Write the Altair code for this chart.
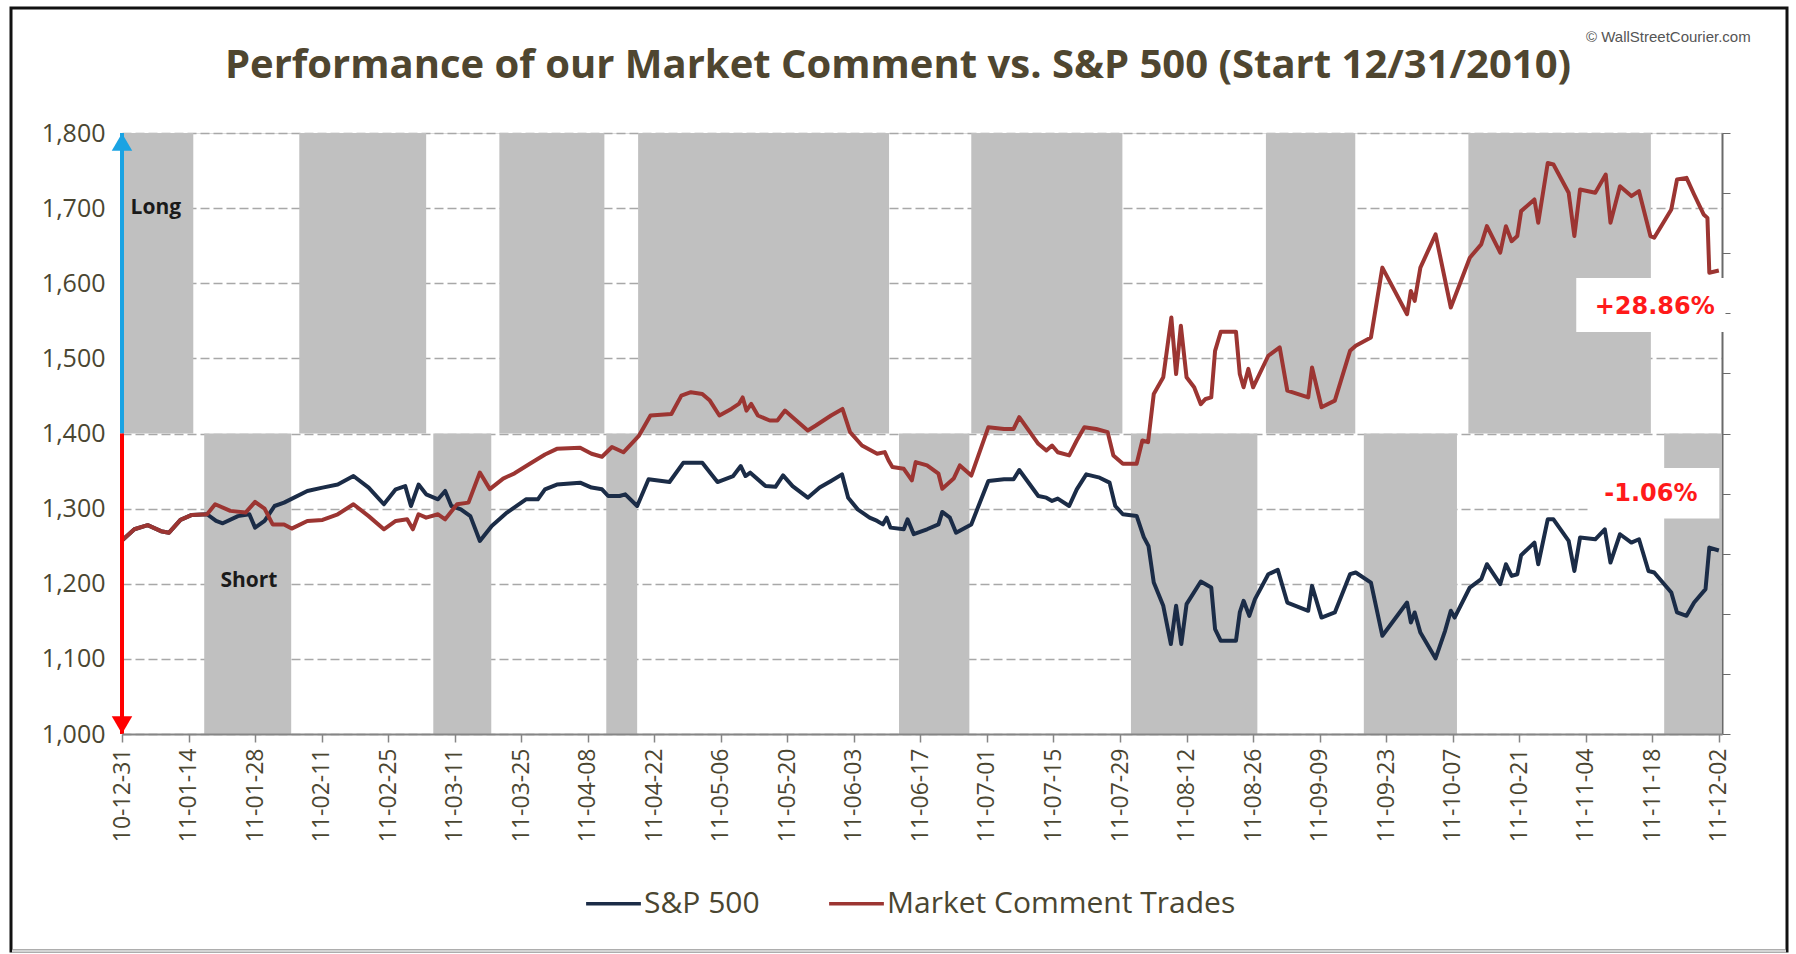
import altair as alt
import pandas as pd

TITLE = "Performance of our Market Comment vs. S&P 500 (Start 12/31/2010)"
COPYRIGHT = "\u00a9 WallStreetCourier.com"
SERIES = ["S&P 500", "Market Comment Trades"]
SERIES_COLORS = ["#1b2c47", "#9c3532"]
START = "2010-12-31"

# x positions read as days after 2010-12-31, y as index level
sp_day = [0, 2.6, 5.4, 8.2, 9.9, 12.3, 14.7, 17.9, 19.8, 21.2,
          24.4, 26.8, 28, 30, 32.1, 34.1, 39, 42.2, 45.4, 48.7,
          51.9, 55.1, 57.6, 59.6, 60.8, 62.4, 64, 66.5, 68, 69.3,
          71.3, 73.3, 75.3, 77.8, 81, 85, 87.5, 89, 91.5, 96.4,
          98.8, 101, 102.3, 104.7, 105.9, 108.4, 110.8, 115.2, 118.1, 122.1,
          125.3, 128.6, 130.2, 131.2, 132.2, 135.4, 137.5, 139.1, 141.1, 144.3,
          146.8, 149.2, 151.5, 152.8, 154.8, 157.3, 158.9, 160.1, 160.9, 161.7,
          164.5, 165.3, 166.6, 169.4, 171.8, 172.6, 174.2, 175.5, 178.7, 182.3,
          185.6, 187.6, 188.8, 192.8, 194.5, 195.7, 196.9, 199.3, 200.9, 202.9,
          205.7, 207.8, 209, 210.6, 213.5, 215, 216, 217.1, 219.1, 220.7,
          221.8, 222.9, 224, 227, 229.2, 230, 231.2, 234.4, 235.2, 236,
          237.2, 238.4, 241.2, 243.2, 245.2, 249.6, 250.4, 252.4, 255.2, 258.4,
          259.6, 262.8, 265.2, 270.4, 271.2, 272, 273.2, 276.4, 278.4, 279.6,
          280.4, 283.6, 286, 287.2, 290, 291.2, 292.4, 293.6, 294.4, 297.2,
          298, 300, 301.2, 304.4, 305.6, 306.8, 310, 312, 313.2, 315.2,
          317.6, 319.2, 321.2, 322.4, 326, 327.2, 329.2, 330.8, 333.2, 334,
          336]
sp_val = [1257.6, 1272.5, 1278, 1270, 1268, 1285, 1291.6, 1292.5, 1283.6, 1280.5,
          1290, 1292.5, 1274.7, 1283.6, 1303.5, 1308, 1323.5, 1328, 1332, 1343.4,
          1328, 1305.8, 1325.7, 1330, 1303.5, 1332, 1319, 1312.4, 1323.5, 1303.5,
          1299, 1290, 1257, 1277, 1294.7, 1312.4, 1312.4, 1325.7, 1332, 1334.6,
          1328, 1325.7, 1316.8, 1316.8, 1319, 1303.5, 1339, 1335.4, 1361, 1361,
          1335.4, 1343.4, 1356.7, 1343.4, 1347.9, 1330, 1329, 1344.3, 1330, 1314.6,
          1328, 1336.8, 1345.6, 1314.6, 1299, 1288, 1283.6, 1279, 1288, 1274.7,
          1272.5, 1285.8, 1265.9, 1272.5, 1279, 1295.6, 1288, 1268, 1279, 1336.8,
          1339, 1339, 1351.4, 1316.8, 1314.6, 1310.2, 1313.3, 1303.5, 1325.7, 1345.6,
          1341.2, 1334.6, 1303.5, 1292.5, 1290.3, 1262, 1250, 1201.6, 1170.6, 1119.7,
          1170.6, 1119.7, 1172.8, 1203, 1195, 1139.6, 1124, 1124, 1161.8, 1177.3,
          1157.3, 1179.5, 1212.7, 1218.5, 1175, 1164, 1197.2, 1155, 1161.8, 1212.7,
          1215, 1201.6, 1130.7, 1175, 1148.5, 1161.8, 1135, 1100.6, 1137.4, 1164,
          1155, 1195, 1206, 1226, 1199.4, 1226, 1210.5, 1212.7, 1238, 1254.8,
          1226, 1285.8, 1285.8, 1257, 1217, 1261.5, 1259.2, 1272.5, 1228.2, 1265.9,
          1254.8, 1259.2, 1217, 1215, 1188.3, 1161.8, 1157.3, 1175, 1192.8, 1248.2,
          1244.3]

mc_day = [0, 2.6, 5.4, 8.2, 9.9, 12.3, 14.7, 17.9, 19.6, 22.8,
          26, 28, 30, 31.7, 34.1, 35.7, 39, 42.2, 45.4, 48.7,
          51.9, 55.1, 57.6, 60, 61.2, 62.4, 64, 66.5, 68, 70.5,
          72.9, 75.3, 77.4, 80.2, 82.6, 85.9, 89, 91.5, 96.4, 98.8,
          101, 103.1, 105.5, 108.8, 111.2, 115.6, 117.7, 119.7, 122.1, 123.7,
          125.7, 128.2, 129.8, 130.6, 131.4, 132.4, 133.8, 136.3, 137.9, 139.5,
          141.1, 144.3, 146, 149.2, 151.6, 153.2, 155.7, 158.9, 160.5, 161.3,
          162.1, 164.5, 166.2, 167, 169.4, 171.8, 172.6, 175, 176.3, 178.7,
          182.3, 185.6, 187.6, 188.8, 192.8, 194.5, 195.7, 196.9, 199.3, 200.9,
          202.5, 205, 207.4, 208.6, 210.6, 213.5, 214.7, 215.9, 217.1, 219.1,
          220.8, 221.8, 222.8, 224, 225.6, 227, 228, 229.2, 230, 231.2,
          234.4, 235.2, 236, 237, 238, 241.2, 243.6, 245.2, 249.6, 250.4,
          252.4, 255.2, 258.4, 259.6, 262.8, 265.2, 270.4, 271.2, 272, 273.2,
          276.4, 279.6, 283.6, 286, 287.2, 290, 291.2, 292.4, 293.6, 294.4,
          297.2, 298, 300, 301.2, 304.4, 305.6, 306.8, 310, 312.2, 313.2,
          315.2, 317.6, 319.2, 321.6, 322.4, 326, 327.2, 329.2, 330.8, 332.8,
          333.6, 334, 336]
mc_val = [1257.6, 1272.5, 1278, 1270, 1268, 1285, 1291.6, 1292.5, 1305.8, 1297,
          1294.7, 1308.9, 1300, 1279, 1279, 1273.4, 1283.6, 1285, 1292.5, 1305.8,
          1290, 1272.5, 1283.6, 1285.8, 1272.5, 1292.5, 1288, 1292.5, 1285.8, 1305.8,
          1308, 1348, 1326, 1340, 1347, 1360, 1372, 1379.6, 1381, 1373,
          1369, 1382, 1375, 1397.3, 1424, 1426, 1450.4, 1455, 1452.7, 1443.8,
          1424, 1432.7, 1439.4, 1448, 1430.5, 1439.4, 1424, 1417.3, 1417.3, 1430.5,
          1421.7, 1404, 1410.6, 1424, 1432.7, 1401.8, 1384, 1373, 1375.2, 1364,
          1355.3, 1353, 1337.6, 1362, 1357.5, 1346.5, 1326.5, 1340, 1357.5, 1344,
          1408.4, 1406, 1406, 1421.7, 1386.3, 1377.4, 1384, 1375, 1370.8, 1390.7,
          1408.4, 1406, 1401.8, 1370.8, 1359.7, 1359.7, 1390.7, 1388.5, 1452.7, 1474.8,
          1554.4, 1479.2, 1543.4, 1474.8, 1461.5, 1439, 1446, 1448, 1510, 1535.4,
          1535.4, 1479.2, 1461.5, 1486, 1461.5, 1503.5, 1514.6, 1457, 1448, 1488,
          1435, 1443.8, 1510, 1516.8, 1527.9, 1620.8, 1558.8, 1589.8, 1576.5, 1620.8,
          1665, 1567.7, 1634, 1651.8, 1676, 1640.7, 1676, 1656, 1662.8, 1696,
          1711.5, 1680.5, 1760, 1758, 1720.4, 1662.8, 1724.8, 1720.4, 1744.7, 1680.5,
          1729.2, 1716, 1722.6, 1662.8, 1660.6, 1698.2, 1738, 1740.3, 1718.1, 1691.6,
          1687, 1614, 1617]

# Long (upper grey) and Short (lower grey) periods, in days after start
long_start = [0, 37.3, 79.4, 108.6, 178.7, 240.7, 283.3]
long_end = [15.0, 64.0, 101.5, 161.4, 210.5, 259.5, 321.7]
short_start = [17.3, 65.5, 101.9, 163.5, 212.3, 261.3, 324.5]
short_end = [35.6, 77.7, 108.4, 178.3, 238.9, 280.9, 336.6]

tick_labels = ["2010-12-31", "2011-01-14", "2011-01-28", "2011-02-11", "2011-02-25",
               "2011-03-11", "2011-03-25", "2011-04-08", "2011-04-22", "2011-05-06",
               "2011-05-20", "2011-06-03", "2011-06-17", "2011-07-01", "2011-07-15",
               "2011-07-29", "2011-08-12", "2011-08-26", "2011-09-09", "2011-09-23",
               "2011-10-07", "2011-10-21", "2011-11-04", "2011-11-18", "2011-12-02"]
y_ticks = [1000, 1100, 1200, 1300, 1400, 1500, 1600, 1700, 1800]
right_ticks = [1000, 1080, 1160, 1240, 1320, 1400, 1480, 1560, 1640, 1720, 1800]

pct_text = ["+28.86%", "-1.06%"]
pct_day = [322.5, 321.7]
pct_val = [1568, 1320]
box_d1 = [306.0, 308.5]
box_d2 = [337.4, 336.1]
box_v1 = [1535, 1287]
box_v2 = [1607, 1354]

side_text = ["Long", "Short"]
side_day = [1.8, 20.7]
side_val = [1700, 1204]

base = pd.Timestamp(START)


def to_date(days):
    return [base + pd.to_timedelta(d, unit="D") for d in days]


lines_df = pd.concat([
    pd.DataFrame({"date": to_date(sp_day), "value": sp_val, "series": SERIES[0]}),
    pd.DataFrame({"date": to_date(mc_day), "value": mc_val, "series": SERIES[1]}),
])
bands_df = pd.concat([
    pd.DataFrame({"d1": to_date(long_start), "d2": to_date(long_end), "lo": 1400, "hi": 1800}),
    pd.DataFrame({"d1": to_date(short_start), "d2": to_date(short_end), "lo": 1000, "hi": 1400}),
])
box_df = pd.DataFrame({"d1": to_date(box_d1), "d2": to_date(box_d2), "v1": box_v1, "v2": box_v2})
pct_df = pd.DataFrame({"date": to_date(pct_day), "value": pct_val, "text": pct_text})
side_df = pd.DataFrame({"date": to_date(side_day), "value": side_val, "text": side_text})
arrow_df = pd.DataFrame({"date": to_date([0, 0]), "y1": [1400, 1400], "y2": [1800, 1000],
                         "c": ["#1aa3e3", "#ff0000"]})
up_df = pd.DataFrame({"date": to_date([0]), "value": [1800]})
down_df = pd.DataFrame({"date": to_date([0]), "value": [1000]})


def dt(s):
    return alt.DateTime(year=int(s[:4]), month=int(s[5:7]), date=int(s[8:10]))


TXT = "#4a4631"
xscale = alt.Scale(domain=[dt("2010-12-31"),
                           alt.DateTime(year=2011, month=12, date=2, hours=16)])
yscale = alt.Scale(domain=[1000, 1800], nice=False, zero=False)
xaxis = alt.Axis(values=[dt(s) for s in tick_labels], format="%y-%m-%d", labelAngle=270,
                 labelFont="Open Sans", labelFontSize=23, labelColor=TXT, labelPadding=6,
                 tickSize=8, tickColor="#868686", domainColor="#868686", domainWidth=2,
                 tickWidth=1.5, grid=False, title=None, zindex=1, labelOverlap=False)
left_axis = alt.Axis(values=y_ticks, format=",d", labelFont="Open Sans", labelFontSize=25,
                     labelColor=TXT, labelPadding=17, ticks=False, domain=False,
                     grid=True, gridDash=[9, 4], gridColor="#a8a8a8", gridWidth=1.5,
                     title=None, orient="left")
right_axis = alt.Axis(values=right_ticks, labels=False, ticks=True, tickSize=8,
                      tickColor="#6a6a6a", domainColor="#6a6a6a", domainWidth=2,
                      grid=False, title=None, orient="right")


def X(field):
    return alt.X(field, type="temporal", scale=xscale, axis=xaxis)


bands = alt.Chart(bands_df).mark_rect(color="#c0c0c0").encode(
    x=X("d1"), x2="d2",
    y=alt.Y("lo:Q", scale=yscale, axis=right_axis), y2="hi:Q")

boxes = alt.Chart(box_df).mark_rect(color="#ffffff").encode(
    x=X("d1"), x2="d2", y=alt.Y("v1:Q", scale=yscale, axis=None), y2="v2:Q")

lines = alt.Chart(lines_df).mark_line(strokeWidth=4, strokeJoin="round").encode(
    x=X("date"),
    y=alt.Y("value:Q", scale=yscale, axis=left_axis),
    color=alt.Color("series:N",
                    scale=alt.Scale(domain=SERIES, range=SERIES_COLORS),
                    legend=alt.Legend(title=None, orient="none", legendX=462, legendY=741,
                                      direction="horizontal", symbolType="stroke",
                                      symbolStrokeWidth=3.5, symbolSize=3000,
                                      labelFont="Open Sans", labelFontSize=30,
                                      labelLimit=600, labelColor=TXT,
                                      columnPadding=62, labelOffset=1)),
    order="date:T")

arrows = alt.Chart(arrow_df).mark_rule(strokeWidth=4).encode(
    x=X("date"), y=alt.Y("y1:Q", scale=yscale, axis=None), y2="y2:Q",
    color=alt.Color("c:N", scale=None))

up = alt.Chart(up_df).mark_point(shape="triangle-up", filled=True, size=420, opacity=1,
                                  color="#1aa3e3", yOffset=9).encode(
    x=X("date"), y=alt.Y("value:Q", scale=yscale, axis=None))
down = alt.Chart(down_df).mark_point(shape="triangle-down", filled=True, size=420, opacity=1,
                                      color="#ff0000", yOffset=-9).encode(
    x=X("date"), y=alt.Y("value:Q", scale=yscale, axis=None))

side = alt.Chart(side_df).mark_text(align="left", baseline="middle", font="Open Sans",
                                    fontWeight="bold", fontSize=21, color="#1a1a1a").encode(
    x=X("date"), y=alt.Y("value:Q", scale=yscale, axis=None), text="text:N")

pct = alt.Chart(pct_df).mark_text(align="center", baseline="middle", font="DejaVu Sans",
                                  fontWeight="bold", fontSize=24, color="#ff1a1a").encode(
    x=X("date"), y=alt.Y("value:Q", scale=yscale, axis=None), text="text:N")

title_txt = alt.Chart(alt.Data(values=[{}])).mark_text(
    text=TITLE, align="center", baseline="alphabetic", font="Open Sans",
    fontWeight="bold", fontSize=40, color="#4f4630").encode(
    x=alt.value(776), y=alt.value(-55))

copyright_txt = alt.Chart(alt.Data(values=[{}])).mark_text(
    text=COPYRIGHT, align="left", baseline="alphabetic",
    font="Liberation Sans", fontSize=15, color="#555555").encode(
    x=alt.value(1464), y=alt.value(-91))

frame = alt.Chart(alt.Data(values=[{}])).mark_rect(
    fillOpacity=0, stroke="#111111", strokeWidth=3).encode(
    x=alt.value(-111), x2=alt.value(1665), y=alt.value(-125), y2=alt.value(818))
frame_bottom = alt.Chart(alt.Data(values=[{}])).mark_rule(
    color="#d4d4d4", strokeWidth=3).encode(
    x=alt.value(-110), x2=alt.value(1664), y=alt.value(818))

chart = alt.layer(
    bands, boxes, lines, arrows, up, down, side, pct, title_txt, copyright_txt,
    frame, frame_bottom
).resolve_axis(y="independent").properties(
    width=1600, height=601,
    padding={"left": 122, "top": 133, "right": 74, "bottom": 220},
    autosize=alt.AutoSizeParams(type="none"),
).configure_view(stroke="transparent").configure(background="#ffffff")

chart.save("out.html", embed_options={"renderer": "svg", "actions": False})
